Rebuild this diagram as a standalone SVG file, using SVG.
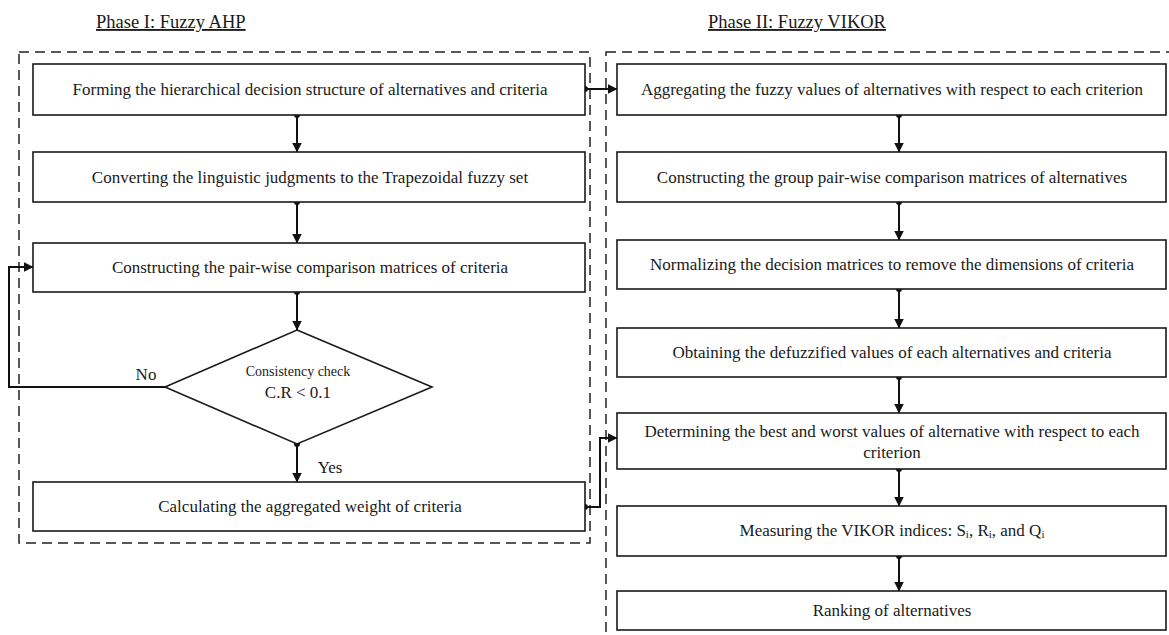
<svg xmlns="http://www.w3.org/2000/svg" width="1169" height="635" viewBox="0 0 1169 635">
  <style>
    text { font-family: "Liberation Serif", "Times New Roman", serif; fill: #1a1a1a; }
    .t { font-size: 17px; text-anchor: middle; }
    .title { font-size: 18.5px; text-decoration: underline; }
    .box { fill: #ffffff; stroke: #1a1a1a; stroke-width: 1.6; }
    .phase { fill: none; stroke: #222; stroke-width: 1.5; stroke-dasharray: 10 6; }
    .conn { fill: none; stroke: #111; stroke-width: 2; }
  </style>
  <defs>
    <marker id="arr" viewBox="0 0 10 10" refX="9.5" refY="5" markerWidth="10" markerHeight="10" markerUnits="userSpaceOnUse" orient="auto">
      <path d="M0,0 L10,5 L0,10 z" fill="#111"/>
    </marker>
    <marker id="dot" viewBox="0 0 6 6" refX="3" refY="3" markerWidth="6" markerHeight="6" markerUnits="userSpaceOnUse" orient="auto">
      <circle cx="3" cy="3" r="3" fill="#111"/>
    </marker>
  </defs>

  <rect width="1169" height="635" fill="#ffffff"/>

  <g id="phase1">
    <rect class="phase" x="19" y="52" width="571" height="491"/>
    <text class="title" x="96" y="28">Phase I: Fuzzy AHP</text>
  </g>
  <g id="phase2">
    <rect class="phase" x="606" y="52" width="570" height="600"/>
    <text class="title" x="708" y="28">Phase II: Fuzzy VIKOR</text>
  </g>

  <g id="connectors">
    <path class="conn" d="M297,115 V152" marker-start="url(#dot)" marker-end="url(#arr)"/>
    <path class="conn" d="M297,202 V243" marker-start="url(#dot)" marker-end="url(#arr)"/>
    <path class="conn" d="M297,292 V330" marker-start="url(#dot)" marker-end="url(#arr)"/>
    <path class="conn" d="M297,444 V482" marker-start="url(#dot)" marker-end="url(#arr)"/>
    <path class="conn" d="M165,387 H9 V267 H33" marker-end="url(#arr)"/>
    <path class="conn" d="M585,89 H617" marker-start="url(#dot)" marker-end="url(#arr)"/>
    <path class="conn" d="M585,507 H600 V438 H617" marker-start="url(#dot)" marker-end="url(#arr)"/>
    <path class="conn" d="M899,115 V152" marker-start="url(#dot)" marker-end="url(#arr)"/>
    <path class="conn" d="M899,202 V240" marker-start="url(#dot)" marker-end="url(#arr)"/>
    <path class="conn" d="M899,289 V328" marker-start="url(#dot)" marker-end="url(#arr)"/>
    <path class="conn" d="M899,377 V413" marker-start="url(#dot)" marker-end="url(#arr)"/>
    <path class="conn" d="M899,469 V506" marker-start="url(#dot)" marker-end="url(#arr)"/>
    <path class="conn" d="M899,556 V591" marker-start="url(#dot)" marker-end="url(#arr)"/>
    <text class="t" x="146" y="380">No</text>
    <text class="t" x="330" y="473">Yes</text>
  </g>

  <g id="l1">
    <rect class="box" x="33" y="64" width="552" height="51"/>
    <text class="t" x="310" y="95">Forming the hierarchical decision structure of alternatives and criteria</text>
  </g>
  <g id="l2">
    <rect class="box" x="33" y="152" width="552" height="50"/>
    <text class="t" x="310" y="183">Converting the linguistic judgments to the Trapezoidal fuzzy set</text>
  </g>
  <g id="l3">
    <rect class="box" x="33" y="243" width="552" height="49"/>
    <text class="t" x="310" y="273">Constructing the pair-wise comparison matrices of criteria</text>
  </g>
  <g id="l4">
    <polygon class="box" points="297,330 432,387 297,444 165,387"/>
    <text x="298" y="376" style="font-size:14px;text-anchor:middle">Consistency check</text>
    <text x="298" y="398" style="font-size:17px;text-anchor:middle">C.R &lt; 0.1</text>
  </g>
  <g id="l5">
    <rect class="box" x="33" y="482" width="552" height="49"/>
    <text class="t" x="310" y="512">Calculating the aggregated weight of criteria</text>
  </g>

  <g id="r1">
    <rect class="box" x="617" y="64" width="549" height="51"/>
    <text class="t" x="892" y="95">Aggregating the fuzzy values of alternatives with respect to each criterion</text>
  </g>
  <g id="r2">
    <rect class="box" x="617" y="152" width="549" height="50"/>
    <text class="t" x="892" y="183">Constructing the group pair-wise comparison matrices of alternatives</text>
  </g>
  <g id="r3">
    <rect class="box" x="617" y="240" width="549" height="49"/>
    <text class="t" x="892" y="270">Normalizing the decision matrices to remove the dimensions of criteria</text>
  </g>
  <g id="r4">
    <rect class="box" x="617" y="328" width="549" height="49"/>
    <text class="t" x="892" y="358">Obtaining the defuzzified values of each alternatives and criteria</text>
  </g>
  <g id="r5">
    <rect class="box" x="617" y="413" width="549" height="56"/>
    <text class="t" x="892" y="437">Determining the best and worst values of alternative with respect to each</text>
    <text class="t" x="892" y="458">criterion</text>
  </g>
  <g id="r6">
    <rect class="box" x="617" y="506" width="549" height="50"/>
    <text class="t" x="892" y="536">Measuring the VIKOR indices: S<tspan style="font-size:11px" dy="2">i</tspan><tspan dy="-2">, R</tspan><tspan style="font-size:11px" dy="2">i</tspan><tspan dy="-2">, and Q</tspan><tspan style="font-size:11px" dy="2">i</tspan></text>
  </g>
  <g id="r7">
    <rect class="box" x="617" y="591" width="549" height="39"/>
    <text class="t" x="892" y="616">Ranking of alternatives</text>
  </g>
</svg>
